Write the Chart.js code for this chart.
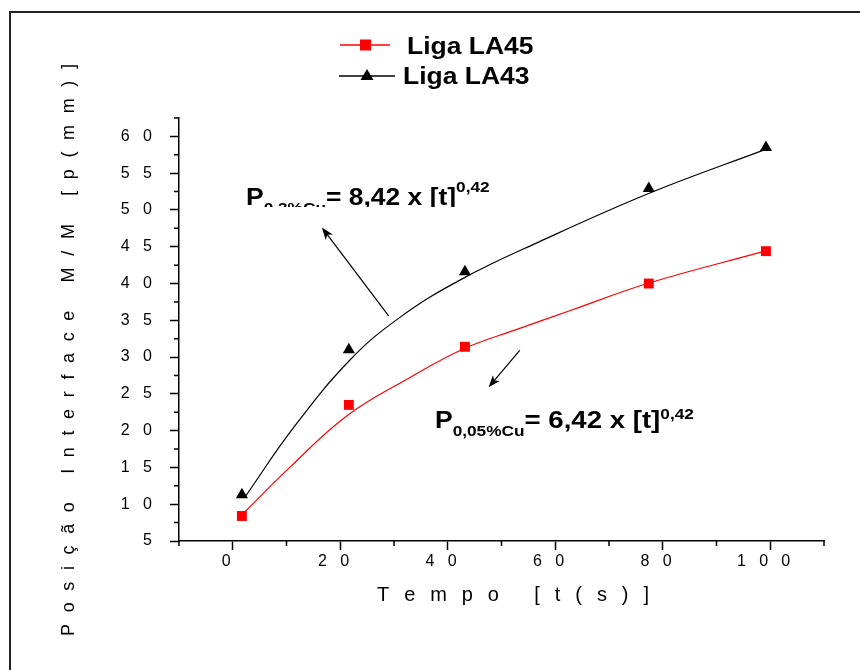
<!DOCTYPE html>
<html>
<head>
<meta charset="utf-8">
<script src="https://cdn.jsdelivr.net/npm/chart.js@4.4.1/dist/chart.umd.min.js"></script>
<style>
  body { margin: 0; background: #fff; }
</style>
</head>
<body>
<canvas id="grafico" width="860" height="670"></canvas>
<script>
// medidas (tempo em s, posicao em mm)
var tempo = [1.7, 21.6, 43.2, 77.4, 99.2];
var ligaLA45 = [8.4, 23.5, 31.4, 40.0, 44.4];
var ligaLA43 = [11.3, 31.0, 41.6, 52.9, 58.5];

// curvas ajustadas
var tempoAjuste45 = [1.9, 10.6, 21.2, 32.9, 43.2, 53, 62.7, 77.6, 99.0];
var ajuste45 = [8.7, 15.0, 22.0, 27.2, 31.2, 33.8, 36.3, 40.1, 44.4];
var tempoAjuste43 = [2.2, 11.2, 21.8, 31.1, 42.6, 57.1, 77.6, 99.0];
var ajuste43 = [10.9, 20.3, 29.6, 35.4, 40.6, 45.7, 52.3, 58.2];

// marcas dos eixos
var marcasX = [0, 20, 40, 60, 80, 100];
var marcasY = [5, 10, 15, 20, 25, 30, 35, 40, 45, 50, 55, 60];

var nomes = ['Liga LA45', 'Liga LA43'];
var tituloX = 'Tempo [t(s)]';
var tituloY = 'Posição Interface M/M [p(mm)]';

// setas das equacoes [t inicial, p inicial, t final, p final]
var setas = [[29.0, 35.6, 16.6, 47.6], [53.4, 30.9, 47.6, 25.9]];

var FONTE = '"Liberation Sans", Arial, sans-serif';
var ESTICA = 1.15;

function pares(xs, ys) {
    return xs.map(function(x, i) { return { x: x, y: ys[i] }; });
}

function espacado(v, fim) {
    return String(v).split('').join('   ') + (fim ? '   ' : '');
}

function textoRico(ctx, x, y, partes) {
    partes.forEach(function(p) {
        ctx.font = 'bold ' + p.size + 'px ' + FONTE;
        ctx.save();
        ctx.translate(x, y + (p.dy || 0));
        ctx.scale(ESTICA, 1);
        ctx.fillText(p.t, 0, 0);
        ctx.restore();
        x += ctx.measureText(p.t).width * ESTICA;
    });
}

function textoEspacado(ctx, texto, cx, cy, largura, fonte) {
    ctx.font = fonte;
    var letras = Array.from(texto);
    var ws = letras.map(function(c) { return ctx.measureText(c).width; });
    var total = ws.reduce(function(a, b) { return a + b; }, 0);
    var gap = (largura - total) / (letras.length - 1);
    var x = cx - largura / 2;
    letras.forEach(function(c, i) {
        ctx.fillText(c, x, cy);
        x += ws[i] + gap;
    });
}

function seta(ctx, x1, y1, x2, y2) {
    var a = Math.atan2(y2 - y1, x2 - x1);
    ctx.beginPath();
    ctx.moveTo(x1, y1);
    ctx.lineTo(x2 - Math.cos(a) * 6, y2 - Math.sin(a) * 6);
    ctx.stroke();
    ctx.beginPath();
    ctx.moveTo(x2, y2);
    ctx.lineTo(x2 - Math.cos(a) * 12 + Math.sin(a) * 4.5, y2 - Math.sin(a) * 12 - Math.cos(a) * 4.5);
    ctx.lineTo(x2 - Math.cos(a) * 9, y2 - Math.sin(a) * 9);
    ctx.lineTo(x2 - Math.cos(a) * 12 - Math.sin(a) * 4.5, y2 - Math.sin(a) * 12 + Math.cos(a) * 4.5);
    ctx.closePath();
    ctx.fill();
}

var extras = {
    id: 'extras',
    afterDraw: function(chart) {
        var ctx = chart.ctx;
        var xs = chart.scales.x, ys = chart.scales.y;
        ctx.save();
        ctx.fillStyle = '#000';

        // moldura
        ctx.lineWidth = 2;
        ctx.strokeStyle = '#222';
        ctx.strokeRect(10, 12, 900, 700);

        // marcas secundarias
        ctx.strokeStyle = '#000';
        ctx.lineWidth = 1.5;
        ctx.beginPath();
        for (var v = -10; v <= 110; v += 20) {
            var px = xs.getPixelForValue(v);
            ctx.moveTo(px, ys.bottom);
            ctx.lineTo(px, ys.bottom + 5);
        }
        for (var w = 7.5; w <= 62.5; w += 5) {
            var py = ys.getPixelForValue(w);
            ctx.moveTo(xs.left, py);
            ctx.lineTo(xs.left - 5, py);
        }
        ctx.stroke();

        // titulos dos eixos
        ctx.textBaseline = 'middle';
        ctx.textAlign = 'left';
        textoEspacado(ctx, tituloX, 513, 595, 272, '20px ' + FONTE);
        ctx.save();
        ctx.translate(69, 350);
        ctx.rotate(-Math.PI / 2);
        textoEspacado(ctx, tituloY, 0, 0, 572, '18px ' + FONTE);
        ctx.restore();

        // legenda
        ctx.lineWidth = 1.5;
        ctx.strokeStyle = '#ff0000';
        ctx.beginPath(); ctx.moveTo(340, 45); ctx.lineTo(390, 45); ctx.stroke();
        ctx.fillStyle = '#ff0000';
        ctx.fillRect(360, 39.5, 11, 11);
        ctx.strokeStyle = '#000';
        ctx.beginPath(); ctx.moveTo(339, 76); ctx.lineTo(395, 76); ctx.stroke();
        ctx.fillStyle = '#000';
        ctx.beginPath();
        ctx.moveTo(367, 69); ctx.lineTo(373.5, 80); ctx.lineTo(360.5, 80); ctx.closePath(); ctx.fill();
        ctx.textBaseline = 'alphabetic';
        textoRico(ctx, 407, 54, [{ t: nomes[0], size: 23 }]);
        textoRico(ctx, 403, 84, [{ t: nomes[1], size: 23 }]);

        // equacoes
        ctx.save();
        ctx.beginPath();
        ctx.rect(0, 0, 860, 207);
        ctx.clip();
        textoRico(ctx, 246, 205, [
            { t: 'P', size: 23 },
            { t: '0.3%Cu', size: 15, dy: 8 },
            { t: '= 8,42 x [t]', size: 23 },
            { t: '0,42', size: 15, dy: -13 }
        ]);
        ctx.restore();
        textoRico(ctx, 435, 428, [
            { t: 'P', size: 23 },
            { t: '0,05%Cu', size: 15, dy: 8 },
            { t: '= 6,42 x [t]', size: 24 },
            { t: '0,42', size: 15, dy: -9 }
        ]);

        // setas
        ctx.lineWidth = 1.2;
        setas.forEach(function(s) {
            seta(ctx, xs.getPixelForValue(s[0]), ys.getPixelForValue(s[1]),
                 xs.getPixelForValue(s[2]), ys.getPixelForValue(s[3]));
        });
        ctx.restore();
    }
};

var ctx = document.getElementById('grafico');
var grafico = new Chart(ctx, {
    type: 'scatter',
    data: {
        datasets: [
            {
                label: nomes[0],
                data: pares(tempo, ligaLA45),
                pointStyle: 'rect',
                pointRadius: 7,
                backgroundColor: '#ff0000',
                borderColor: '#ff0000',
                borderWidth: 0,
                showLine: false
            },
            {
                label: nomes[1],
                data: pares(tempo, ligaLA43),
                pointStyle: 'triangle',
                pointRadius: 7,
                backgroundColor: '#000',
                borderColor: '#000',
                borderWidth: 0,
                showLine: false
            },
            {
                label: 'ajuste LA45',
                data: pares(tempoAjuste45, ajuste45),
                showLine: true,
                borderColor: '#ff0000',
                borderWidth: 1.2,
                pointRadius: 0,
                tension: 0.4
            },
            {
                label: 'ajuste LA43',
                data: pares(tempoAjuste43, ajuste43),
                showLine: true,
                borderColor: '#000',
                borderWidth: 1.2,
                pointRadius: 0,
                tension: 0.4
            }
        ]
    },
    options: {
        responsive: false,
        animation: false,
        layout: { padding: { top: 118, right: 36, left: 0, bottom: 0 } },
        plugins: {
            legend: { display: false },
            tooltip: { enabled: false }
        },
        scales: {
            x: {
                type: 'linear',
                min: -10,
                max: 110,
                border: { color: '#000', width: 1.5 },
                grid: { drawOnChartArea: false, color: '#000', tickLength: 9, tickWidth: 1.5 },
                afterBuildTicks: function(s) {
                    s.ticks = marcasX.map(function(v) { return { value: v }; });
                },
                ticks: {
                    color: '#000',
                    padding: 2,
                    maxRotation: 0,
                    autoSkip: false,
                    font: { size: 16, family: FONTE },
                    callback: function(v) { return espacado(v, true); }
                },
                afterFit: function(s) { s.height = 129; }
            },
            y: {
                min: 5,
                max: 62.5,
                border: { color: '#000', width: 1.5 },
                grid: { drawOnChartArea: false, color: '#000', tickLength: 9, tickWidth: 1.5 },
                afterBuildTicks: function(s) {
                    s.ticks = marcasY.map(function(v) { return { value: v }; });
                },
                ticks: {
                    color: '#000',
                    padding: 18,
                    autoSkip: false,
                    font: { size: 16, family: FONTE },
                    callback: function(v) { return espacado(v, false); }
                },
                afterFit: function(s) { s.width = 179; }
            }
        }
    },
    plugins: [extras]
});
</script>
</body>
</html>
